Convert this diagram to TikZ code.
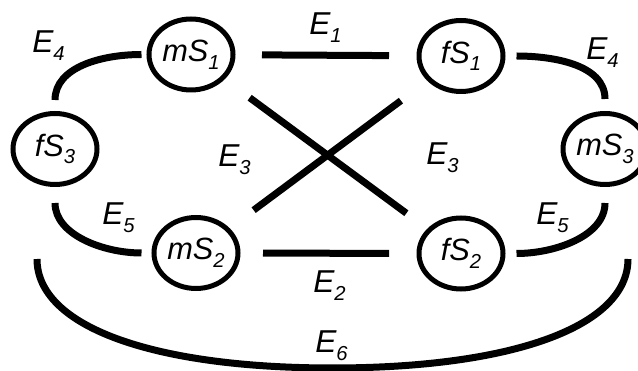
\documentclass[tikz,border=0pt]{standalone}
\usepackage{fontspec}
\setmainfont{Liberation Sans}
\usetikzlibrary{shapes.geometric}
\newcommand{\idx}[1]{\raisebox{-4.3pt}{\fontsize{11.5}{12}\selectfont\itshape #1}}
\tikzset{
    grp/.style={ellipse, draw, line width=0.1cm, minimum width=1.68cm, minimum height=1.42cm, inner sep=0pt, font=\fontsize{17.5}{20}\selectfont\itshape},
    edge/.style={line width=0.14cm},
    elabel/.style={anchor=base west, inner sep=0pt, font=\fontsize{18}{21}\selectfont\itshape}
}
\begin{document}
\begin{tikzpicture}
    \useasboundingbox (0,0) rectangle (12.76,7.42);

    % Gruppen
    \node[grp] (mS1) at (3.82, 6.33) {mS\idx{1}};
    \node[grp] (fS1) at (9.22, 6.30) {fS\idx{1}};
    \node[grp] (fS3) at (1.10, 4.44) {fS\idx{3}};
    \node[grp] (mS3) at (12.10, 4.44) {mS\idx{3}};
    \node[grp] (mS2) at (3.92, 2.36) {mS\idx{2}};
    \node[grp] (fS2) at (9.22, 2.35) {fS\idx{2}};

    % gerade Kanten
    \draw[edge, shorten <=0.53cm, shorten >=0.55cm] (mS1) -- (fS1);
    \draw[edge, shorten <=0.45cm, shorten >=0.55cm] (mS2) -- (fS2);
    \draw[edge, shorten <=0.62cm, shorten >=0.52cm] (mS1) -- (fS2);
    \draw[edge, shorten <=0.60cm, shorten >=0.66cm] (mS2) -- (fS1);

    % Boegen
    \draw[edge, shorten <=0.1cm, shorten >=0.22cm] (mS1) to[out=180, in=90, looseness=1.05] (fS3);
    \draw[edge, shorten <=0.32cm, shorten >=0.2cm] (fS3) to[out=-90, in=180, looseness=1.05] (mS2);
    \draw[edge, shorten <=0.22cm, shorten >=0.24cm] (fS1) to[out=0, in=90, looseness=1.05] (mS3);
    \draw[edge, shorten <=0.22cm, shorten >=0.32cm] (fS2) to[out=0, in=-90, looseness=1.05] (mS3);

    % E6 unten
    \coordinate (e6l) at (0.74, 2.24);
    \coordinate (e6b) at (6.65, 0.06);
    \coordinate (e6r) at (12.56, 2.24);
    \draw[edge] (e6l) .. controls +(0,-1.35) and +(-3.6,0) .. (e6b)
        .. controls +(3.6,0) and +(0,-1.35) .. (e6r);

    % Beschriftungen
    \node[elabel] (l1) at (6.18, 6.72) {E\idx{1}};
    \node[elabel] (l4a) at (0.64, 6.36) {E\idx{4}};
    \node[elabel] (l4b) at (11.72, 6.22) {E\idx{4}};
    \node[elabel] (l3a) at (4.36, 4.08) {E\idx{3}};
    \node[elabel] (l3b) at (8.52, 4.12) {E\idx{3}};
    \node[elabel] (l5a) at (2.04, 2.92) {E\idx{5}};
    \node[elabel] (l5b) at (10.72, 2.92) {E\idx{5}};
    \node[elabel] (l2) at (6.26, 1.56) {E\idx{2}};
    \node[elabel] (l6) at (6.30, 0.36) {E\idx{6}};
\end{tikzpicture}
\end{document}
